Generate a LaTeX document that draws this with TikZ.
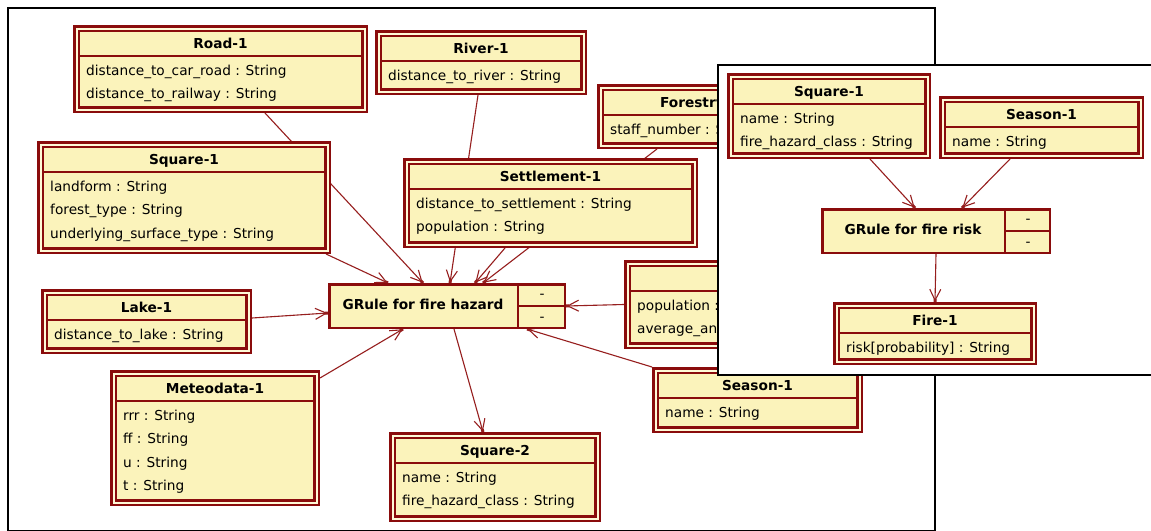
\documentclass[tikz,border=0pt]{standalone}
\usepackage{fontspec}
\setmainfont{DejaVu Sans}
\usetikzlibrary{arrows.meta,calc}
\pgfdeclarelayer{bg}
\pgfsetlayers{bg,main}
\definecolor{dred}{RGB}{138,12,12}
\definecolor{conncol}{RGB}{150,30,30}
\definecolor{boxfill}{RGB}{251,243,187}
\definecolor{gapfill}{RGB}{255,250,215}
\newcommand\dfont{\fontsize{13.7}{16}\selectfont}
\tikzset{
  umlframe/.style={draw=dred, line width=2.5pt, double=gapfill, double distance=2pt,
    fill=boxfill, inner sep=0pt, outer sep=3.5pt},
  grulestyle/.style={draw=dred, line width=2.5pt, fill=boxfill, inner sep=0pt},
  sepline/.style={draw=dred, line width=2pt},
  ruleline/.style={draw=dred, line width=2.5pt},
  titletext/.style={font=\dfont\bfseries, inner sep=0pt, text height=10pt, text depth=3pt, anchor=center},
  attrtext/.style={font=\dfont, inner sep=0pt, text height=10pt, text depth=3pt, anchor=west},
  dashtext/.style={font=\dfont, inner sep=0pt, text height=10pt, text depth=3pt, anchor=center},
  conn/.style={draw=conncol, line width=1.1pt,
    -{Straight Barb[length=11pt,width=11pt,sep=-2.5pt] Square[length=3pt,width=3pt]}},
  panel/.style={draw=black, line width=2pt},
}
% #1 name, #2 L, #3 T, #4 R, #5 B, #6 title, #7 attributes
\newcommand\umlbox[7]{%
  \node[umlframe, minimum width={#4-#2-7}, minimum height={#5-#3-7}, anchor=north west]
    (#1) at (#2,#3) {};
  \draw[sepline] ({#2+5},{#3+31}) -- ({#4-5},{#3+31});
  \node[titletext] (#1-t) at ({(#2+#4)/2},{#3+20}) {#6};
  \foreach \a [count=\i] in {#7} {%
    \node[attrtext] (#1-a\i) at ({#2+13},{#3+46.5+23.5*(\i-1)}) {\a};}
}
% #1 name, #2 L, #3 T, #4 R, #5 B, #6 divider x, #7 title
\newcommand\rulebox[7]{%
  \node[grulestyle, minimum width={#4-#2-2.5}, minimum height={#5-#3-2.5}, anchor=north west]
    (#1) at (#2,#3) {};
  \draw[ruleline] (#6,#3) -- (#6,#5);
  \draw[ruleline] (#6,{(#3+#5)/2}) -- (#4,{(#3+#5)/2});
  \node[titletext] (#1-t) at ({(#2+#6)/2},{(#3+#5)/2}) {#7};
  \node[dashtext] (#1-d1) at ({(#6+#4)/2},{#3+(#5-#3)/4}) {-};
  \node[dashtext] (#1-d2) at ({(#6+#4)/2},{#5-(#5-#3)/4}) {-};
}
\begin{document}
\begin{tikzpicture}[x=1pt,y=-1pt]
\useasboundingbox (0,0) rectangle (1151,530);
\begin{pgfonlayer}{bg}
  \fill[white] (0,0) rectangle (1151,530);
  \draw[panel] (8,8) rectangle (935,531);
\end{pgfonlayer}

% ---- left diagram ----
\umlbox{road}{73}{25}{368}{113}{Road-1}{distance\_to\_car\_road : String, distance\_to\_railway : String}
\umlbox{river}{375}{30}{587}{95}{River-1}{distance\_to\_river : String}
\umlbox{forest}{597}{84}{803}{149}{Forestry-1}{staff\_number : String}
\umlbox{sqa}{37}{141}{331}{254}{Square-1}{landform : String, forest\_type : String, underlying\_surface\_type : String}
\umlbox{settle}{403}{158}{698}{248}{Settlement-1}{distance\_to\_settlement : String, population : String}
\umlbox{popul}{624}{260}{860}{349}{}{population : String, average\_annual : String}
\umlbox{lake}{41}{289}{252}{354}{Lake-1}{distance\_to\_lake : String}
\umlbox{meteo}{110}{370}{320}{506}{Meteodata-1}{rrr : String, ff : String, u : String, t : String}
\umlbox{seasona}{652}{367}{863}{433}{Season-1}{name : String}
\umlbox{sqb}{389}{432}{601}{522}{Square-2}{name : String, fire\_hazard\_class : String}
\rulebox{hazard}{328}{283}{566}{329}{518}{GRule for fire hazard}

\begin{pgfonlayer}{bg}
  \draw[conn] ([xshift=44.5pt]road.south) -- ([xshift=-24pt]hazard.north);
  \draw[conn] ([xshift=142pt]sqa.south) -- ([xshift=-59pt]hazard.north);
  \draw[conn] ([xshift=-3pt]river.south) -- ([xshift=3pt]hazard.north);
  \draw[conn] ([xshift=-43pt]forest.south) -- ([xshift=36pt]hazard.north);
  \draw[conn] ([xshift=-45.5pt]settle.south) -- ([xshift=28pt]hazard.north);
  \draw[conn] ([yshift=3.5pt]lake.east) -- ([yshift=-7pt]hazard.west);
  \draw[conn] ([yshift=-8pt]meteo.north east) -- ([xshift=-44pt]hazard.south);
  \draw[conn] (popul.west) -- (hazard.east);
  \draw[conn] (seasona.north west) -- ([xshift=80pt]hazard.south);
  \draw[conn] ([xshift=7pt]hazard.south) -- ([xshift=-12pt]sqb.north);
\end{pgfonlayer}

% ---- right panel ----
\filldraw[panel, fill=white] (718,65) rectangle (1153,375);
\umlbox{rsq}{727}{73}{931}{159}{Square-1}{name : String, fire\_hazard\_class : String}
\umlbox{rseason}{939}{96}{1144}{159}{Season-1}{name : String}
\rulebox{risk}{821}{208}{1051}{254}{1005}{GRule for fire risk}
\umlbox{fire}{833}{302}{1037}{365}{Fire-1}{risk[probability] : String}
\draw[conn] ([xshift=41pt]rsq.south) -- ([xshift=-21pt]risk.north);
\draw[conn] ([xshift=-31.5pt]rseason.south) -- ([xshift=26pt]risk.north);
\draw[conn] (risk.south) -- (fire.north);
\end{tikzpicture}
\end{document}
